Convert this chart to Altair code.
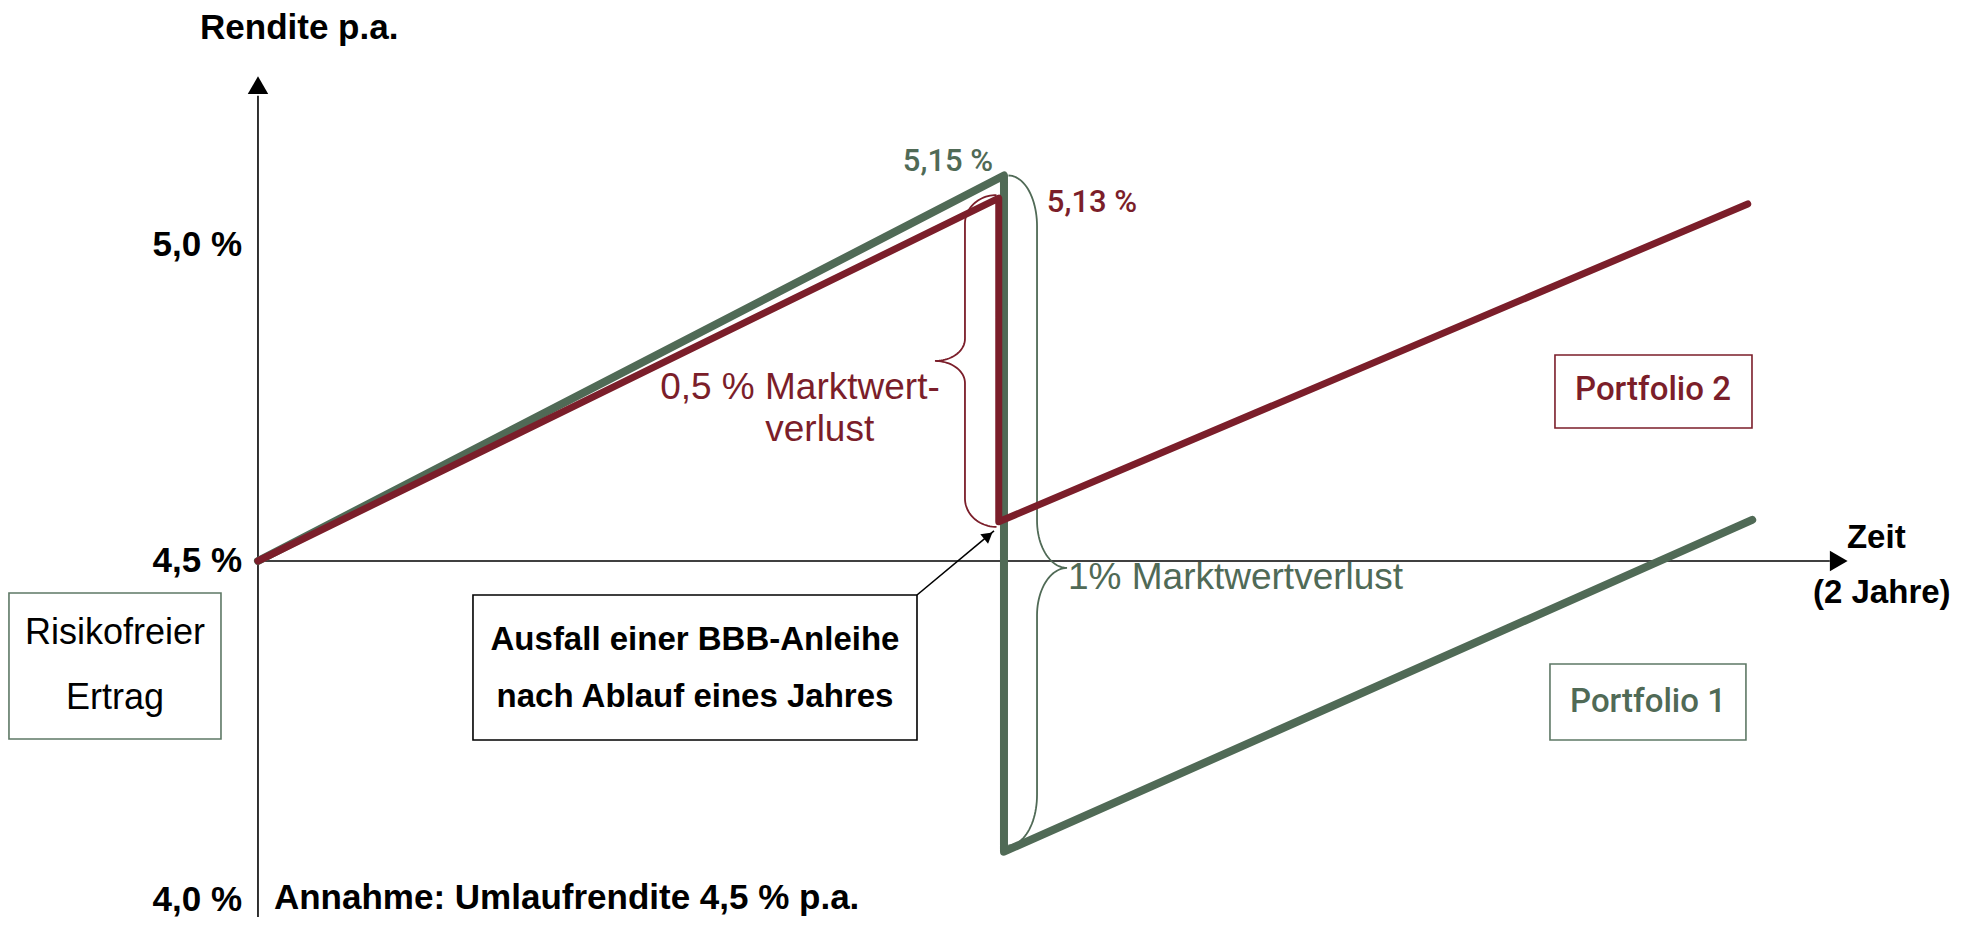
import altair as alt
import pandas as pd
import numpy as np

# ---------------- data ----------------
# time in years, return in % p.a.
green_years = [0.0, 1.0, 1.0, 2.003]
green_ret = [4.5, 5.11, 4.04, 4.565]
red_years = [0.0, 0.993, 0.993, 1.997]
red_ret = [4.5, 5.074, 4.562, 5.065]

tick_labels = ["5,0 %", "4,5 %", "4,0 %"]
tick_pos = [5.0, 4.5, 3.964]

GREEN = "#506A56"
RED = "#7B1E2A"
BOX_GREEN = "#5E7865"
FONT_N = "Liberation Sans Narrow, Arial Narrow, Liberation Sans, sans-serif"
FONT_R = "Roboto, Liberation Sans, sans-serif"

# plot frame (data units)
X_DOMAIN = [-0.3351, 2.2869]
Y_DOMAIN = [3.9367, 5.375]
W, H = 1956, 909


def X(field="x"):
    return alt.X(f"{field}:Q", scale=alt.Scale(domain=X_DOMAIN, nice=False, zero=False), axis=None)


def Y(field="y"):
    return alt.Y(f"{field}:Q", scale=alt.Scale(domain=Y_DOMAIN, nice=False, zero=False), axis=None)


def text_layer(rows, **props):
    df = pd.DataFrame(rows, columns=["x", "y", "t"])
    return alt.Chart(df).mark_text(baseline="middle", **props).encode(x=X(), y=Y(), text="t:N")


# ---------------- axes ----------------
axes_df = pd.DataFrame({"x": [0.0, 0.0], "y": [3.935, 4.5], "x2": [0.0, 2.107], "y2": [5.236, 4.5]})
axes = alt.Chart(axes_df).mark_rule(color="black", strokeWidth=1.6).encode(
    x=X(), y=Y(), x2="x2:Q", y2="y2:Q")
y_arrow = alt.Chart(pd.DataFrame({"x": [0.0], "y": [5.253]})).mark_point(
    shape="triangle-up", filled=True, color="black", size=420, opacity=1).encode(x=X(), y=Y())
x_arrow = alt.Chart(pd.DataFrame({"x": [2.119], "y": [4.5]})).mark_point(
    shape="triangle-right", filled=True, color="black", size=420, opacity=1).encode(x=X(), y=Y())

ticks = text_layer(list(zip([-0.0214] * 3, tick_pos, tick_labels)),
                   align="right", font=FONT_N, fontSize=35, fontWeight="bold", color="black")

# ---------------- braces ----------------
def brace(xe, xv, xt, yt, yb, ym, r, r2, n=24):
    th = np.linspace(0, np.pi / 2, n)
    xs, ys = [], []
    xs += list(xe + (xv - xe) * np.sin(th)); ys += list(yt - r + r * np.cos(th))
    xs += list(xt + (xv - xt) * np.cos(th)); ys += list(ym + r2 - r2 * np.sin(th))
    xs += list(xt + (xv - xt) * np.sin(th)); ys += list(ym - r2 + r2 * np.cos(th))
    xs += list(xe + (xv - xe) * np.cos(th)); ys += list(yb + r - r * np.sin(th))
    return pd.DataFrame({"x": xs, "y": ys, "i": range(len(xs))})


g_brace = brace(1.006, 1.0443, 1.0845, 5.11, 4.05, 4.489, 0.08, 0.075)
r_brace = brace(0.99, 0.9477, 0.9075, 5.079, 4.554, 4.8165, 0.045, 0.035)
braces = alt.layer(
    alt.Chart(g_brace).mark_line(color=GREEN, strokeWidth=1.8).encode(x=X(), y=Y(), order="i:Q"),
    alt.Chart(r_brace).mark_line(color=RED, strokeWidth=1.8).encode(x=X(), y=Y(), order="i:Q"),
)

# ---------------- return lines ----------------
g_df = pd.DataFrame({"x": green_years, "y": green_ret, "i": range(4)})
r_df = pd.DataFrame({"x": red_years, "y": red_ret, "i": range(4)})
lines = alt.layer(
    alt.Chart(g_df).mark_line(color=GREEN, strokeWidth=8, strokeCap="round", strokeJoin="round").encode(
        x=X(), y=Y(), order="i:Q"),
    alt.Chart(r_df).mark_line(color=RED, strokeWidth=7, strokeCap="round", strokeJoin="round").encode(
        x=X(), y=Y(), order="i:Q"),
)

# ---------------- boxes ----------------
box_df = pd.DataFrame({
    "x": [1.7386, 1.7319, -0.3338, 0.2882],
    "x2": [2.0027, 1.9946, -0.0496, 0.8834],
    "y": [4.826, 4.337, 4.4494, 4.4462],
    "y2": [4.7104, 4.2168, 4.2184, 4.2168],
    "c": [RED, BOX_GREEN, BOX_GREEN, "black"],
})
boxes = alt.Chart(box_df).mark_rect(fill="white", strokeWidth=1.6).encode(
    x=X(), x2="x2:Q", y=Y(), y2="y2:Q", stroke=alt.Stroke("c:N", scale=None))

# annotation arrow
arr_df = pd.DataFrame({"x": [0.8834], "y": [4.4462], "x2": [0.9866], "y2": [4.5475]})
arrow_line = alt.Chart(arr_df).mark_rule(color="black", strokeWidth=1.6).encode(
    x=X(), y=Y(), x2="x2:Q", y2="y2:Q")
arrow_head = alt.Chart(pd.DataFrame({"x": [0.979], "y": [4.540]})).mark_point(
    shape="triangle-up", filled=True, color="black", size=150, angle=51, opacity=1).encode(x=X(), y=Y())

# ---------------- texts ----------------
texts = alt.layer(
    text_layer([(-0.0777, 5.3434, "Rendite p.a.")], align="left", font=FONT_N, fontSize=35,
               fontWeight="bold", color="black"),
    text_layer([(0.0214, 3.9665, "Annahme: Umlaufrendite 4,5 % p.a.")], align="left", font=FONT_N,
               fontSize=35, fontWeight="bold", color="black"),
    text_layer([(2.130, 4.5364, "Zeit"), (2.0845, 4.449, "(2 Jahre)")], align="left", font=FONT_N,
               fontSize=33, fontWeight="bold", color="black"),
    text_layer([(0.925, 5.131, "5,15 %")], align="center", font=FONT_R, fontSize=31, fontWeight=500,
               color=GREEN),
    text_layer([(1.118, 5.066, "5,13 %")], align="center", font=FONT_R, fontSize=31, fontWeight=500,
               color=RED),
    text_layer([(0.7265, 4.774, "0,5 %  Marktwert-"), (0.753, 4.707, "verlust")], align="center",
               font=FONT_N, fontSize=37, color=RED),
    text_layer([(1.0858, 4.473, "1%  Marktwertverlust")], align="left", font=FONT_N, fontSize=37,
               color=GREEN),
    text_layer([(1.870, 4.7706, "Portfolio 2")], align="center", font=FONT_R, fontSize=33,
               fontWeight=500, color=RED),
    text_layer([(1.8633, 4.2769, "Portfolio 1")], align="center", font=FONT_R, fontSize=33,
               fontWeight=500, color=GREEN),
    text_layer([(-0.1917, 4.386, "Risikofreier"), (-0.1917, 4.2832, "Ertrag")], align="center",
               font=FONT_N, fontSize=36, color="black"),
    text_layer([(0.5858, 4.375, "Ausfall einer BBB-Anleihe"), (0.5858, 4.2848, "nach Ablauf eines Jahres")],
               align="center", font=FONT_N, fontSize=33, fontWeight="bold", color="black"),
)

chart = alt.layer(
    axes, y_arrow, x_arrow, ticks, braces, lines, boxes, arrow_line, arrow_head, texts
).properties(
    width=W, height=H, autosize=alt.AutoSizeParams(type="none"), padding=0
).configure_view(stroke=None)

chart.save("out.html", embed_options={"renderer": "svg", "actions": False})
